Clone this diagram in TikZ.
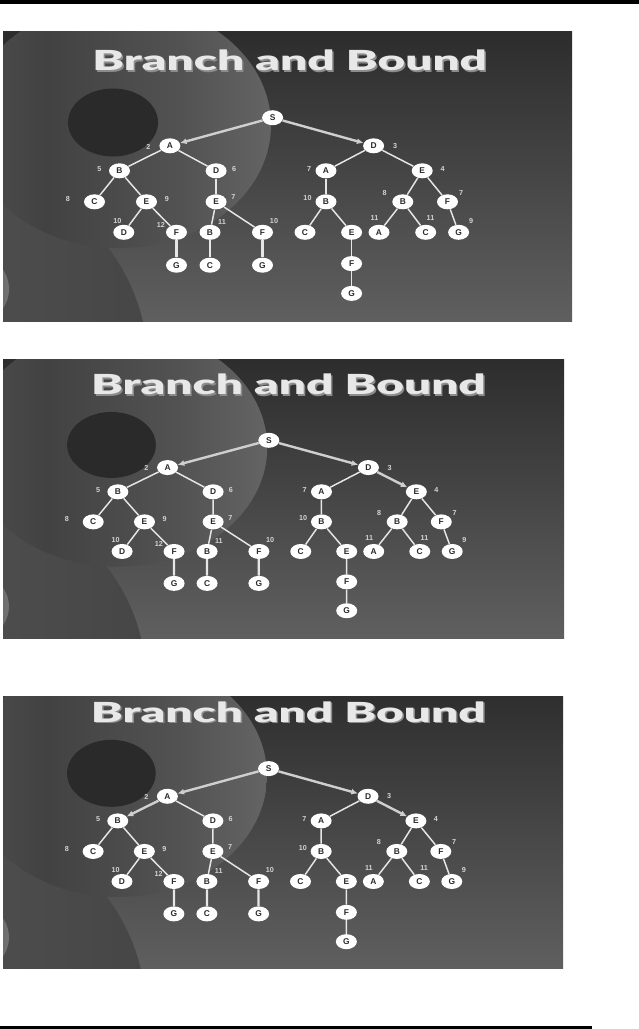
\documentclass[tikz,border=0pt]{standalone}
\usepackage{fontspec}
\usetikzlibrary{shapes.geometric,arrows.meta}
\newfontfamily\titlefont{Lato Black}
\newfontfamily\nodefont{Liberation Sans}
\definecolor{bgtop}{HTML}{292929}
\definecolor{bgbot}{HTML}{616161}
\definecolor{bcA}{HTML}{606060}
\definecolor{bcB}{HTML}{575757}
\definecolor{bcC}{HTML}{424242}
\definecolor{bcD}{HTML}{525252}
\definecolor{bcE}{HTML}{6A6A6A}
\definecolor{bcF}{HTML}{7A7A7A}
\definecolor{llA}{HTML}{575757}
\definecolor{llB}{HTML}{464646}
\definecolor{crA}{HTML}{4A4A4A}
\definecolor{crB}{HTML}{727272}
\definecolor{darkell}{HTML}{2A2A2A}
\definecolor{edgecol}{HTML}{E6E6E6}
\definecolor{arrcol}{HTML}{CFCFCF}
\definecolor{lblcol}{HTML}{D4D4D4}
\definecolor{txtcol}{HTML}{2A2A2A}
\definecolor{titlecol}{HTML}{E8E8E8}
\definecolor{titlesh}{HTML}{8C8C8C}
\pgfdeclarehorizontalshading{bigcirc}{100bp}{color(0bp)=(bcA); color(15bp)=(bcB); color(38bp)=(bcC); color(60bp)=(bcD); color(80bp)=(bcE); color(100bp)=(bcF)}
\newcommand{\slidecontent}[1]{%
  \shade[top color=bgtop, bottom color=bgbot] (-10,-20) rectangle (585,300);
  \shade[left color=llA, right color=llB] (-50,335) ellipse [x radius=195, y radius=195];
  \shade[shading=bigcirc] (116,94) ellipse [x radius=152, y radius=123];
  \fill[darkell] (110,91.5) ellipse [x radius=45, y radius=34];
  \shade[left color=crA, right color=crB] (-28,258) ellipse [x radius=34, y radius=34];
  \node[ttl, text=titlesh] (#1titlesh) at (90.5,41.2) {\resizebox{296pt}{15.5pt}{\titlefont Branch and Bound}};
  \node[ttl, text=titlecol] (#1title) at (89,39.7) {\resizebox{296pt}{15.5pt}{\titlefont Branch and Bound}};
  % tree nodes
  \node[tn] (#1s) at (269.6,86.7) {S};
  \node[tn] (#1a) at (166.9,114.8) {A};
  \node[tn] (#1d) at (370.6,114.8) {D};
  \node[tn] (#1ab) at (116.5,139.8) {B};
  \node[tn] (#1ad) at (213.1,139.8) {D};
  \node[tn] (#1da) at (323,139.8) {A};
  \node[tn] (#1de) at (419.2,139.8) {E};
  \node[tn] (#1abc) at (91.5,170.8) {C};
  \node[tn] (#1abe) at (143.5,170.8) {E};
  \node[tn] (#1ade) at (213.1,170.8) {E};
  \node[tn] (#1dab) at (323,170.8) {B};
  \node[tn] (#1deb) at (399.8,170.8) {B};
  \node[tn] (#1def) at (444.5,170.8) {F};
  \node[tn] (#1abed) at (120.8,201.3) {D};
  \node[tn] (#1abef) at (173.5,201.3) {F};
  \node[tn] (#1adeb) at (207,201.3) {B};
  \node[tn] (#1adef) at (259.5,201.3) {F};
  \node[tn] (#1dabc) at (302,201.3) {C};
  \node[tn] (#1dabe) at (348.6,201.3) {E};
  \node[tn] (#1deba) at (376,201.3) {A};
  \node[tn] (#1debc) at (422.7,201.3) {C};
  \node[tn] (#1defg) at (455.6,201.3) {G};
  \node[tn] (#1abefg) at (173.5,234.2) {G};
  \node[tn] (#1adebc) at (207,234.2) {C};
  \node[tn] (#1adefg) at (259.5,234.2) {G};
  \node[tn] (#1dabef) at (348.6,232.6) {F};
  \node[tn] (#1dabefg) at (348.6,262.4) {G};
  % edges
  \draw[eSA] (#1s) -- (#1a);
  \draw[eSD] (#1s) -- (#1d);
  \draw[eAB] (#1a) -- (#1ab);
  \draw[edge] (#1a) -- (#1ad);
  \draw[edge] (#1d) -- (#1da);
  \draw[eDE] (#1d) -- (#1de);
  \draw[edge] (#1ab) -- (#1abc);
  \draw[edge] (#1ab) -- (#1abe);
  \draw[edge] (#1ad) -- (#1ade);
  \draw[edge] (#1da) -- (#1dab);
  \draw[edge] (#1de) -- (#1deb);
  \draw[edge] (#1de) -- (#1def);
  \draw[edge] (#1abe) -- (#1abed);
  \draw[edge] (#1abe) -- (#1abef);
  \draw[edge] (#1ade) -- (#1adeb);
  \draw[edge] (#1ade) -- (#1adef);
  \draw[edge] (#1dab) -- (#1dabc);
  \draw[edge] (#1dab) -- (#1dabe);
  \draw[edge] (#1deb) -- (#1deba);
  \draw[edge] (#1deb) -- (#1debc);
  \draw[edge] (#1def) -- (#1defg);
  \draw[vedge] (#1abef) -- (#1abefg);
  \draw[vedge] (#1adeb) -- (#1adebc);
  \draw[vedge] (#1adef) -- (#1adefg);
  \draw[edge] (#1dabe) -- (#1dabef);
  \draw[edge] (#1dabef) -- (#1dabefg);
  % cost labels
  \node[lbl] (#1l2) at (145.5,115.5) {2};
  \node[lbl] (#1l3) at (392,115) {3};
  \node[lbl] (#1l5) at (96.5,138) {5};
  \node[lbl] (#1l6) at (231,138) {6};
  \node[lbl] (#1l7a) at (306,138) {7};
  \node[lbl] (#1l4) at (439.5,138) {4};
  \node[lbl] (#1l8a) at (64.8,168) {8};
  \node[lbl] (#1l9a) at (163.8,168) {9};
  \node[lbl] (#1l7b) at (230.5,166.5) {7};
  \node[lbl] (#1l10a) at (304.5,167) {10};
  \node[lbl] (#1l8b) at (381.5,161.7) {8};
  \node[lbl] (#1l7c) at (458,161.7) {7};
  \node[lbl] (#1l10b) at (114.3,190) {10};
  \node[lbl] (#1l12) at (158,194) {12};
  \node[lbl] (#1l11a) at (219,190.7) {11};
  \node[lbl] (#1l10c) at (271,190) {10};
  \node[lbl] (#1l11b) at (371.5,187.5) {11};
  \node[lbl] (#1l11c) at (427.5,187.5) {11};
  \node[lbl] (#1l9b) at (468,189.7) {9};
}
\begin{document}
\begin{tikzpicture}[x=0.75pt,y=-0.75pt,
  tn/.style={ellipse, fill=white, minimum width=15.75pt, minimum height=11.25pt, inner sep=0pt,
    text=txtcol, font=\nodefont\bfseries\fontsize{6.3}{7}\selectfont},
  lbl/.style={inner sep=0pt, text=lblcol, font=\nodefont\bfseries\fontsize{5.4}{6}\selectfont},
  ttl/.style={anchor=base west, inner sep=0pt},
  edge/.style={draw=edgecol, line width=1.1pt},
  vedge/.style={draw=edgecol, line width=1.7pt},
  aedge/.style={draw=arrcol, line width=1.8pt, -{Latex[length=5pt,width=4.5pt]}},
  eSA/.style={aedge}, eSD/.style={aedge}, eDE/.style={edge}, eAB/.style={edge}]
\useasboundingbox (0,0) rectangle (639,1029);
\fill[white] (0,0) rectangle (639,1029);
\fill[black] (0,0) rectangle (639,3.5);
\fill[black] (0,1025.5) rectangle (592,1028.5);
% slide 1
\begin{scope}
  \clip (3,31) rectangle (572,321);
  \begin{scope}[shift={(3,31)}]
    \slidecontent{p1}
  \end{scope}
\end{scope}
% slide 2
\begin{scope}[eDE/.style={aedge}]
  \clip (3,359) rectangle (564,638);
  \begin{scope}[shift={(3,356.2)},xscale=0.986,yscale=0.97]
    \slidecontent{p2}
  \end{scope}
\end{scope}
% slide 3
\begin{scope}[eDE/.style={aedge},eAB/.style={aedge}]
  \clip (3,696) rectangle (563,968);
  \begin{scope}[shift={(3,683.2)},xscale=0.985,yscale=0.985]
    \slidecontent{p3}
  \end{scope}
\end{scope}
\end{tikzpicture}
\end{document}
